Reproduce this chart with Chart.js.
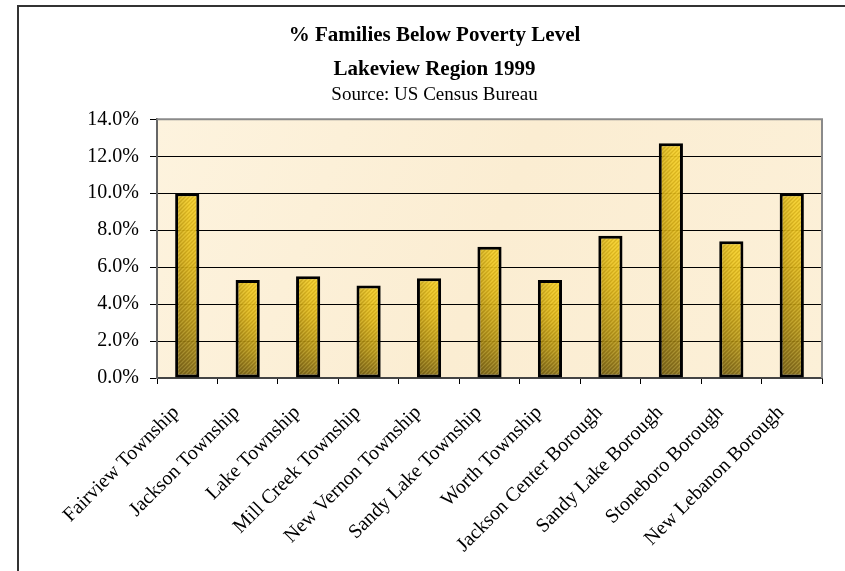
<!DOCTYPE html>
<html lang="en">
<head>
    <meta charset="UTF-8">
    <title>% Families Below Poverty Level</title>
    <script src="https://cdn.jsdelivr.net/npm/chart.js"></script>
    <style>
        html, body { margin: 0; padding: 0; background: #fff; }
        canvas { display: block; }
    </style>
</head>
<body>
    <canvas id="povertyChart" width="845" height="571"></canvas>
    <script>
        // values
        const categories = [
            'Fairview Township', 'Jackson Township', 'Lake Township', 'Mill Creek Township',
            'New Vernon Township', 'Sandy Lake Township', 'Worth Township', 'Jackson Center Borough',
            'Sandy Lake Borough', 'Stoneboro Borough', 'New Lebanon Borough'
        ];
        const percentBelowPoverty = [10.0, 5.3, 5.5, 5.0, 5.4, 7.1, 5.3, 7.7, 12.7, 7.4, 10.0];
        const yTicks = [0, 2, 4, 6, 8, 10, 12, 14];
        const titleLines = ['% Families Below Poverty Level', 'Lakeview Region 1999'];
        const subtitleText = 'Source: US Census Bureau';

        const BAR_PCT = 0.4;
        const serif = "'Liberation Serif', 'Times New Roman', serif";

        // gold bar fill: olive bottom-left to bright top-right, fine "/" stripes, one pattern per bar
        function barFill(ctx) {
            const chart = ctx.chart;
            const xs = chart.scales.x, ys = chart.scales.y;
            if (!xs || !ys || !chart.chartArea) return '#d8b012';
            const v = percentBelowPoverty[ctx.dataIndex];
            const cx = xs.getPixelForValue(ctx.dataIndex);
            const w = Math.max(2, Math.round(xs.width / categories.length * BAR_PCT));
            const top = Math.round(ys.getPixelForValue(v));
            const bottom = Math.round(ys.getPixelForValue(0));
            const h = Math.max(2, bottom - top);
            const left = Math.round(cx - w / 2);

            const off = document.createElement('canvas');
            off.width = w; off.height = h;
            const o = off.getContext('2d');
            o.globalAlpha = 0.93;
            const g = o.createLinearGradient(0, h, w * 0.5, 0);
            g.addColorStop(0, '#7a6310');
            g.addColorStop(0.3, '#b8960f');
            g.addColorStop(0.65, '#e8bd12');
            g.addColorStop(1, '#ffd61e');
            o.fillStyle = g;
            o.fillRect(0, 0, w, h);
            o.globalAlpha = 1;
            // darker left side
            const side = o.createLinearGradient(0, 0, w, 0);
            side.addColorStop(0, 'rgba(50,35,0,0.22)');
            side.addColorStop(0.6, 'rgba(50,35,0,0.05)');
            side.addColorStop(1, 'rgba(255,230,80,0.15)');
            o.fillStyle = side;
            o.fillRect(0, 0, w, h);
            // stripes
            o.lineWidth = 1.2;
            for (let k = -h; k < w + h; k += 4) {
                o.strokeStyle = 'rgba(255,235,140,0.2)';
                o.beginPath(); o.moveTo(k, h); o.lineTo(k + h, 0); o.stroke();
                o.strokeStyle = 'rgba(60,40,0,0.13)';
                o.beginPath(); o.moveTo(k + 2, h); o.lineTo(k + 2 + h, 0); o.stroke();
            }
            const pat = chart.ctx.createPattern(off, 'no-repeat');
            pat.setTransform(new DOMMatrix().translate(left, top));
            return pat;
        }

        const framePlugin = {
            id: 'frame',
            beforeDraw(chart) {
                const { ctx, chartArea: a } = chart;
                ctx.save();
                // outer frame, only left and top show in the picture
                ctx.fillStyle = '#333';
                ctx.fillRect(17, 5, 2, chart.height - 5);
                ctx.fillRect(17, 5, chart.width - 17, 2);
                // plot background
                const bg = ctx.createLinearGradient(a.left, a.top, a.right, a.bottom);
                bg.addColorStop(0, '#fdf3de');
                bg.addColorStop(0.5, '#fbedd2');
                bg.addColorStop(1, '#fcf0d8');
                ctx.fillStyle = bg;
                ctx.fillRect(a.left, a.top, a.right - a.left, a.bottom - a.top);
                ctx.restore();
            },
            afterDraw(chart) {
                const { ctx, chartArea: a } = chart;
                ctx.save();
                ctx.strokeStyle = '#8a8a8a';
                ctx.lineWidth = 2;
                ctx.beginPath();
                ctx.moveTo(a.left, a.top);
                ctx.lineTo(a.right, a.top);
                ctx.lineTo(a.right, a.bottom);
                ctx.stroke();
                ctx.restore();
            }
        };

        new Chart(document.getElementById('povertyChart'), {
            type: 'bar',
            data: {
                labels: categories,
                datasets: [{
                    label: '% Families Below Poverty Level',
                    data: percentBelowPoverty,
                    backgroundColor: barFill,
                    borderColor: '#000',
                    borderWidth: 3,
                    borderSkipped: false,
                    barPercentage: BAR_PCT,
                    categoryPercentage: 1
                }]
            },
            options: {
                responsive: false,
                animation: false,
                devicePixelRatio: 1,
                layout: { padding: { top: 0, left: 47, right: 23, bottom: 0 } },
                plugins: {
                    legend: { display: false },
                    tooltip: { enabled: false },
                    title: {
                        display: true,
                        text: titleLines,
                        color: '#000',
                        font: { family: serif, size: 21, weight: 'bold', lineHeight: 1.6 },
                        padding: { top: 19, bottom: 0 }
                    },
                    subtitle: {
                        display: true,
                        text: subtitleText,
                        color: '#000',
                        font: { family: serif, size: 19, lineHeight: 0.9 },
                        padding: { top: 0, bottom: 16 }
                    }
                },
                scales: {
                    x: {
                        offset: true,
                        afterFit(scale) { scale.height = 193; },
                        grid: {
                            offset: true,
                            drawOnChartArea: false,
                            drawTicks: true,
                            tickLength: 6,
                            color: '#000',
                            lineWidth: 1
                        },
                        border: { display: true, color: '#444', width: 2 },
                        ticks: {
                            color: '#000',
                            font: { family: serif, size: 20 },
                            minRotation: 45,
                            maxRotation: 45,
                            autoSkip: false,
                            padding: 17,
                            labelOffset: -11
                        }
                    },
                    y: {
                        min: 0,
                        max: 14,
                        afterFit(scale) { scale.width = 110; },
                        afterBuildTicks(scale) { scale.ticks = yTicks.map(v => ({ value: v })); },
                        grid: {
                            color: c => (c.tick && c.tick.value === 14) ? '#8a8a8a' : '#000',
                            tickColor: '#000',
                            lineWidth: 1,
                            tickLength: 7,
                            drawTicks: true
                        },
                        border: { display: true, color: '#666', width: 2 },
                        ticks: {
                            color: '#000',
                            font: { family: serif, size: 20 },
                            padding: 11,
                            callback: v => v.toFixed(1) + '%'
                        }
                    }
                }
            },
            plugins: [framePlugin]
        });
    </script>
</body>
</html>
